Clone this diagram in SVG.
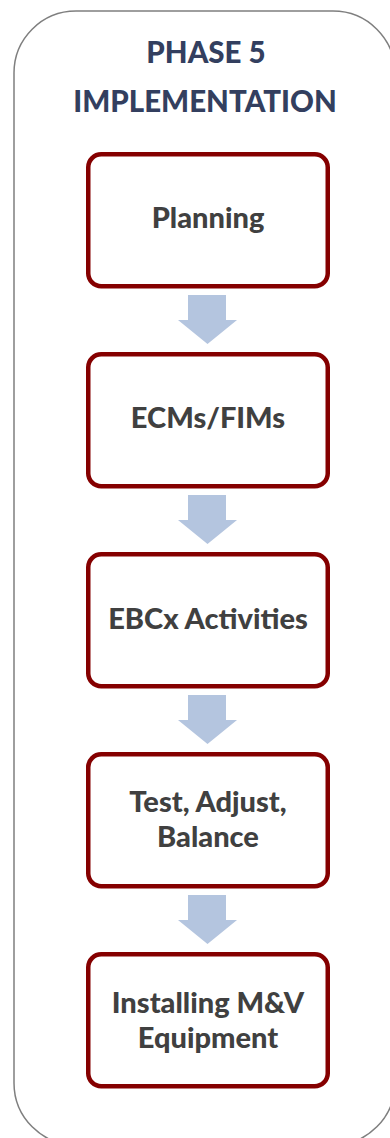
<svg xmlns="http://www.w3.org/2000/svg" width="390" height="1138" viewBox="0 0 390 1138">
<style>
.frame{fill:#ffffff;stroke:#7f7f7f;stroke-width:1.5}
.box{fill:#ffffff;stroke:#850000;stroke-width:4.5}
.arrow{fill:#b4c5df}
.title{font-family:Lato,"Liberation Sans",sans-serif;font-weight:900;font-size:29.5px;fill:#333f5f;text-anchor:middle}
.lbl{font-family:Lato,"Liberation Sans",sans-serif;font-weight:900;font-size:29px;fill:#404040;text-anchor:middle}
</style>
<rect width="390" height="1138" fill="#ffffff"/>
<g id="frame">
<rect class="frame" x="14" y="11" width="381" height="1134" rx="62"/>
<text class="title" x="206" y="63">PHASE 5</text>
<text class="title" x="205" y="112">IMPLEMENTATION</text>
</g>
<g id="connectors">
<polygon class="arrow" points="188,295 226,295 226,320 237,320 207.5,344 178,320 188,320"/>
<polygon class="arrow" points="188,495 226,495 226,520 237,520 207.5,544 178,520 188,520"/>
<polygon class="arrow" points="188,695 226,695 226,720 237,720 207.5,744 178,720 188,720"/>
<polygon class="arrow" points="188,895 226,895 226,920 237,920 207.5,944 178,920 188,920"/>
</g>
<g id="planning">
<rect class="box" x="88.25" y="154.25" width="239.5" height="132" rx="13"/>
<text class="lbl" x="208" y="228">Planning</text>
</g>
<g id="ecms">
<rect class="box" x="88.25" y="354.25" width="239.5" height="132" rx="13"/>
<text class="lbl" x="208" y="428">ECMs/FIMs</text>
</g>
<g id="ebcx">
<rect class="box" x="88.25" y="554.25" width="239.5" height="132" rx="13"/>
<text class="lbl" x="208" y="629">EBCx Activities</text>
</g>
<g id="tab">
<rect class="box" x="88.25" y="754.25" width="239.5" height="132" rx="13"/>
<text class="lbl" x="208" y="812">Test, Adjust,</text>
<text class="lbl" x="208" y="847">Balance</text>
</g>
<g id="mv">
<rect class="box" x="88.25" y="954.25" width="239.5" height="132" rx="13"/>
<text class="lbl" x="208" y="1013">Installing M&amp;V</text>
<text class="lbl" x="208" y="1048">Equipment</text>
</g>
</svg>
